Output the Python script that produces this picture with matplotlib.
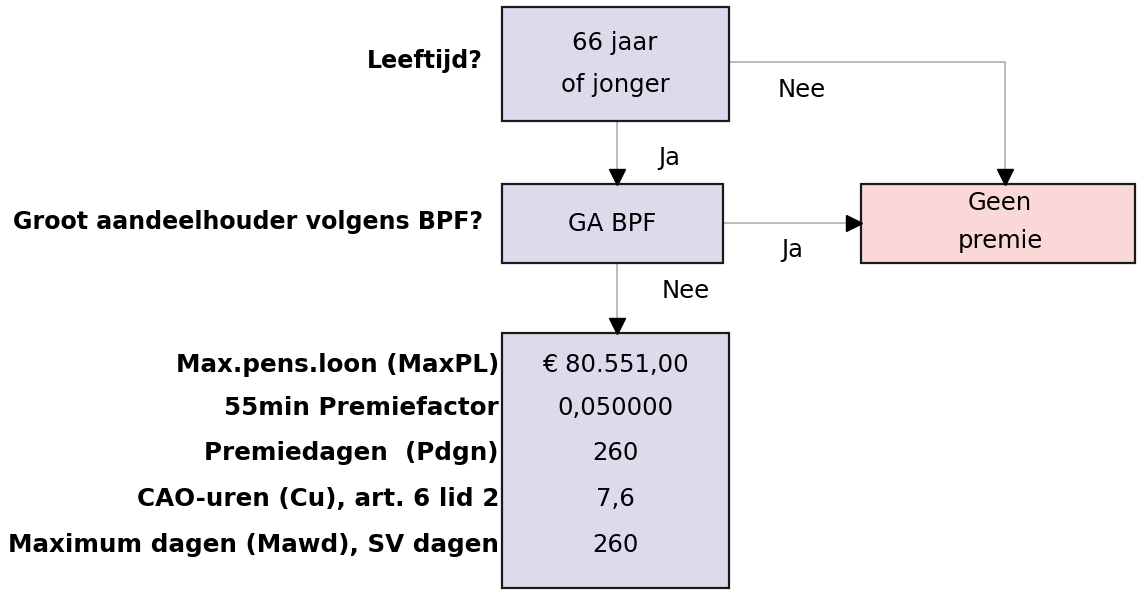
import matplotlib.pyplot as plt
from matplotlib.patches import Rectangle

# question labels (left column) and the values shown in the result box
questions = ['Leeftijd?', 'Groot aandeelhouder volgens BPF?']
param_labels = ['Max.pens.loon (MaxPL)', '55min Premiefactor', 'Premiedagen  (Pdgn)',
                'CAO-uren (Cu), art. 6 lid 2', 'Maximum dagen (Mawd), SV dagen']
param_values = ['€ 80.551,00', '0,050000', '260', '7,6', '260']
box_texts = ['66 jaar\nof jonger', 'GA BPF', 'Geen\npremie']
edge_labels = ['Nee', 'Ja', 'Ja', 'Nee']

LAV = '#dddaeb'
PINK = '#fad8d8'
LINE = '#a8a8a8'
FS = 17.5   # regular text
FB = 17.7   # bold labels
FQ = 17.1   # bold question labels

fig = plt.figure(figsize=(11.37, 5.9), dpi=100)
ax = fig.add_axes([0, 0, 1, 1])
ax.set_xlim(0, 1137)
ax.set_ylim(590, 0)
ax.axis('off')


def box(x0, y0, x1, y1, color):
    ax.add_patch(Rectangle((x0, y0), x1 - x0, y1 - y0, facecolor=color,
                           edgecolor='#1a1a1a', linewidth=1.6, zorder=2))


def arrow(xs, ys, head):
    ax.plot(xs, ys, color=LINE, linewidth=1.1, zorder=1)
    x, y = xs[-1], ys[-1]
    if head == 'v':
        ax.plot(x, y - 7, marker='v', color='black', markersize=11, zorder=3)
    else:
        ax.plot(x - 7, y, marker='>', color='black', markersize=11, zorder=3)


# connectors
arrow([729, 1005, 1005], [62, 62, 184], 'v')
arrow([617, 617], [121, 184], 'v')
arrow([723, 861], [223, 223], '>')
arrow([617, 617], [263, 333], 'v')

# boxes
box(502, 7, 729, 121, LAV)
box(502, 184, 723, 263, LAV)
box(861, 184, 1135, 263, PINK)
box(502, 333, 729, 588, LAV)

ax.text(615, 64, box_texts[0], ha='center', va='center', fontsize=FS, linespacing=1.9)
ax.text(612, 224, box_texts[1], ha='center', va='center', fontsize=FS)
ax.text(1000, 222, box_texts[2], ha='center', va='center', fontsize=FS, linespacing=1.7)

# edge labels
ax.text(802, 90, edge_labels[0], ha='center', va='center', fontsize=FS)
ax.text(669, 158, edge_labels[1], ha='center', va='center', fontsize=FS)
ax.text(792, 250, edge_labels[2], ha='center', va='center', fontsize=FS)
ax.text(686, 291, edge_labels[3], ha='center', va='center', fontsize=FS)

# question labels
ax.text(483, 61, questions[0], ha='right', va='center', fontsize=FQ, fontweight='bold')
ax.text(483, 222, questions[1], ha='right', va='center', fontsize=FQ, fontweight='bold')

# parameter rows
row_y = [365, 408, 453, 499, 545]
for lab, val, y in zip(param_labels, param_values, row_y):
    ax.text(499, y, lab, ha='right', va='center', fontsize=FB, fontweight='bold')
    ax.text(615, y, val, ha='center', va='center', fontsize=FS)

fig.savefig('out.png', dpi=100)
